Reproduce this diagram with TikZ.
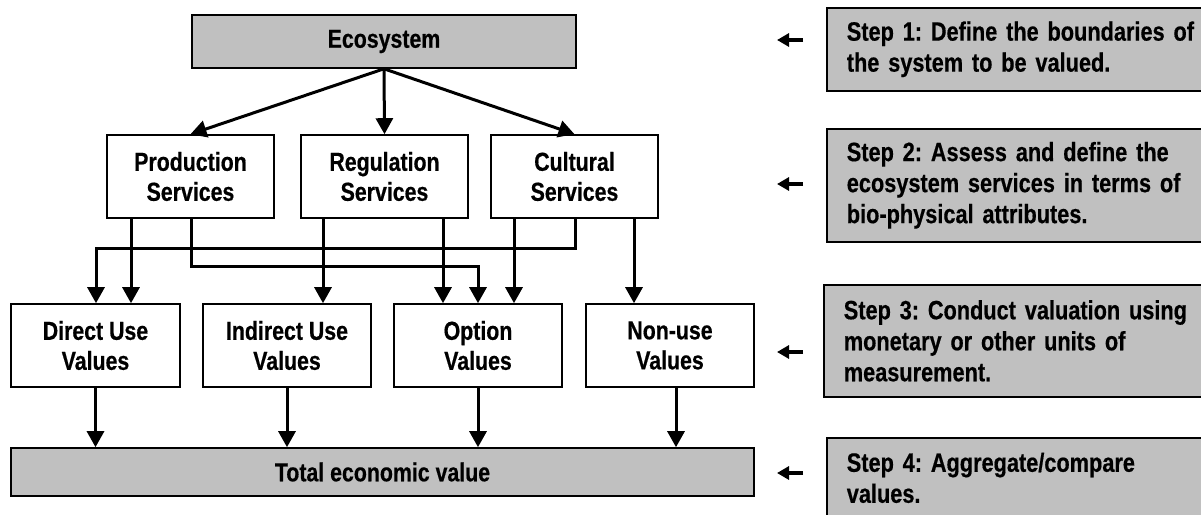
\documentclass[tikz,border=0pt]{standalone}
\usepackage{fontspec}
\setmainfont{Liberation Sans}[FakeStretch=0.82, BoldFeatures={FakeBold=0.5}]
\usetikzlibrary{arrows.meta}
\definecolor{boxgray}{HTML}{C0C0C0}
\frenchspacing
\begin{document}
\begin{tikzpicture}[x=1pt,y=-1pt,
  every node/.style={font=\fontsize{26}{30}\selectfont\bfseries, align=center},
  box/.style={draw, line width=1.6pt, inner sep=0pt, rectangle},
  graybox/.style={box, fill=boxgray},
  whitebox/.style={box, fill=white},
  svc/.style={whitebox, minimum width=167pt, minimum height=83pt},
  val/.style={whitebox, minimum width=168pt, minimum height=83pt},
  arr/.style={line width=3pt, line join=miter, -{Triangle[length=16pt,width=17pt]}},
  sarr/.style={line width=3.5pt, -{Triangle[length=12pt,width=13pt]}},
  stepbox/.style={graybox, anchor=north west, align=left, text width=352pt,
    inner xsep=20pt, inner ysep=0pt, minimum width=392pt,
    font=\fontsize{26.5}{31}\selectfont\bfseries}
]
\useasboundingbox (0,0) rectangle (1201,514);
\clip (0,0) rectangle (1201,514);

% main column
\node[graybox, minimum width=384pt, minimum height=53pt] (eco) at (384,41.5) {Ecosystem};

\node[svc] (prod) at (190.5,176.5) {Production\\Services};
\node[svc] (reg)  at (384.5,176.5) {Regulation\\Services};
\node[svc] (cult) at (574.5,176.5) {Cultural\\Services};

\node[val, minimum width=169pt] (dir) at (95.5,345.5) {Direct Use\\Values};
\node[val] (ind) at (287,345.5) {Indirect Use\\Values};
\node[val] (opt) at (478,345.5) {Option\\Values};
\node[val] (non) at (670,345.5) {Non-use\\Values};

\node[graybox, minimum width=743pt, minimum height=48pt] (tot) at (382.5,472) {Total economic value};

% helper coordinates for connector columns and rows
\coordinate (xa) at (96,0);
\coordinate (xb) at (131,0);
\coordinate (xc) at (191,0);
\coordinate (xd) at (323,0);
\coordinate (xe) at (443,0);
\coordinate (xg) at (514,0);
\coordinate (xh) at (575,0);
\coordinate (xi) at (634,0);
\coordinate (xj) at (676,0);
\coordinate (ya) at (0,248);
\coordinate (yb) at (0,266);

% ecosystem to services
\draw[arr] (eco.south) -- (prod.north);
\draw[arr] (eco.south) -- (reg.north);
\draw[arr] (eco.south) -- (cult.north);

% services to values
\draw[arr] (prod.south -| xb) -- (dir.north -| xb);
\draw[arr] (prod.south -| xc) -- (xc |- yb) -- (opt.north |- yb) -- (opt.north);
\draw[arr] (reg.south -| xd) -- (ind.north -| xd);
\draw[arr] (reg.south -| xe) -- (opt.north -| xe);
\draw[arr] (cult.south -| xg) -- (opt.north -| xg);
\draw[arr] (cult.south -| xh) -- (xh |- ya) -- (xa |- ya) -- (dir.north -| xa);
\draw[arr] (cult.south -| xi) -- (non.north -| xi);

% values to total
\draw[arr] (dir.south) -- (dir.south |- tot.north);
\draw[arr] (ind.south) -- (ind.south |- tot.north);
\draw[arr] (opt.south) -- (opt.south |- tot.north);
\draw[arr] (non.south -| xj) -- (tot.north -| xj);

% step boxes
\node[stepbox, minimum height=83pt]  (s1) at (826,7)   {Step 1: Define the boundaries of\\the system to be valued.};
\node[stepbox, minimum height=113pt] (s2) at (826,128) {Step 2: Assess and define the\\ecosystem services in terms of\\bio-physical attributes.};
\node[stepbox, minimum height=112pt] (s3) at (823,284) {Step 3: Conduct valuation using\\monetary or other units of\\measurement.};
\node[stepbox, minimum height=80pt]  (s4) at (826,437) {Step 4: Aggregate/compare\\values.};

% step pointers
\coordinate (t1) at (803,40);  \coordinate (h1) at (777,40);
\coordinate (t2) at (803,184); \coordinate (h2) at (777,184);
\coordinate (t3) at (803,352); \coordinate (h3) at (777,352);
\coordinate (t4) at (803,473); \coordinate (h4) at (777,473);
\draw[sarr] (t1) -- (h1);
\draw[sarr] (t2) -- (h2);
\draw[sarr] (t3) -- (h3);
\draw[sarr] (t4) -- (h4);
\end{tikzpicture}
\end{document}
